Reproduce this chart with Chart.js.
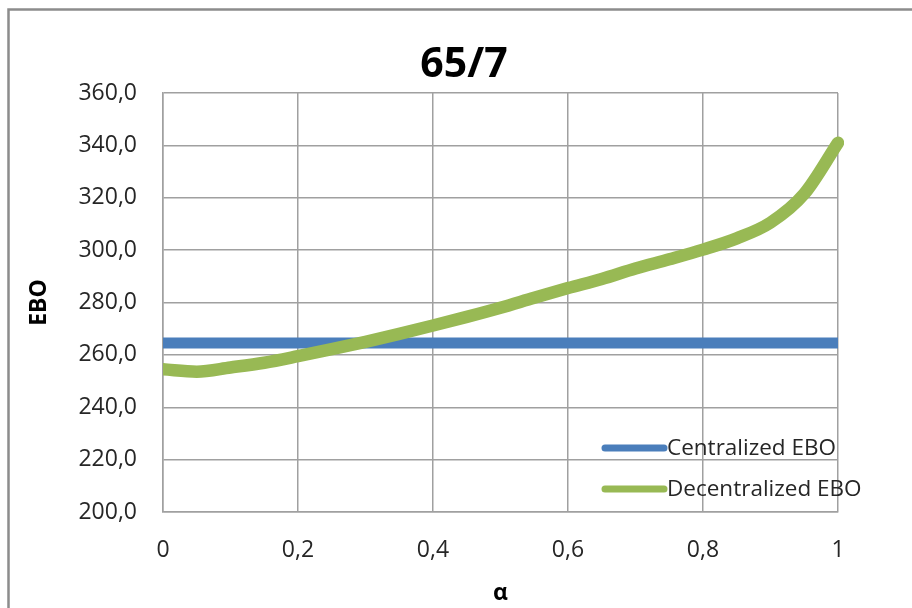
<!DOCTYPE html>
<html>
<head>
<meta charset="utf-8">
<script src="https://cdn.jsdelivr.net/npm/chart.js@4/dist/chart.umd.min.js"></script>
<style>
  html, body { margin: 0; padding: 0; background: #ffffff; }
  #wrap { width: 912px; height: 608px; }
</style>
</head>
<body>
<div id="wrap"><canvas id="c" width="912" height="608"></canvas></div>
<script>
// alpha values (x axis)
const alphas = [0, 0.05, 0.1, 0.15, 0.2, 0.25, 0.3, 0.35, 0.4, 0.45, 0.5,
                0.55, 0.6, 0.65, 0.7, 0.75, 0.8, 0.85, 0.9, 0.95, 1];
// EBO for the centralized system (constant)
const centralizedEBO = [264.5, 264.5, 264.5, 264.5, 264.5, 264.5, 264.5, 264.5, 264.5, 264.5, 264.5,
                        264.5, 264.5, 264.5, 264.5, 264.5, 264.5, 264.5, 264.5, 264.5, 264.5];
// EBO for the decentralized system
const decentralizedEBO = [254.5, 253.6, 255.2, 257.0, 259.5, 262.2, 265.0, 268.0, 271.2, 274.5, 278.0,
                          281.8, 285.5, 289.0, 293.0, 296.5, 300.2, 304.5, 310.5, 321.5, 341.0];
const seriesNames = ['Centralized EBO', 'Decentralized EBO'];
const chartTitle = '65/7';
const xTitle = 'α';
const yTitle = 'EBO';

const FONT = "'Open Sans', 'Noto Sans', 'DejaVu Sans', sans-serif";
const BLUE = '#4a7ebb';
const GREEN = '#98b954';
const TEXT = '#262626';

const toPoints = (ys) => alphas.map((a, i) => ({ x: a, y: ys[i] }));
const comma = (v, digits) => Number(v).toFixed(digits).replace('.', ',');

// outer frame, title and legend drawn on the canvas
const decorations = {
  id: 'decorations',
  beforeDraw(chart) {
    const ctx = chart.ctx;
    ctx.save();
    ctx.strokeStyle = '#8c8c8c';
    ctx.lineWidth = 2.5;
    ctx.beginPath();
    ctx.moveTo(912, 9.5);
    ctx.lineTo(8.5, 9.5);
    ctx.lineTo(8.5, 608);
    ctx.stroke();

    ctx.fillStyle = '#000000';
    ctx.font = "bold 41px " + FONT;
    ctx.textAlign = 'center';
    ctx.textBaseline = 'alphabetic';
    ctx.fillText(chartTitle, 464, 77);
    ctx.restore();
  },
  afterDraw(chart) {
    const ctx = chart.ctx;
    const area = chart.chartArea;
    ctx.save();
    chart.data.datasets.forEach((ds, i) => {
      const y = area.bottom - 64 + i * 41;
      ctx.strokeStyle = ds.borderColor;
      ctx.lineWidth = 7;
      ctx.lineCap = 'round';
      ctx.beginPath();
      ctx.moveTo(area.left + 442, y);
      ctx.lineTo(area.left + 501, y);
      ctx.stroke();
      ctx.fillStyle = TEXT;
      ctx.font = "22.5px " + FONT;
      ctx.textAlign = 'left';
      ctx.textBaseline = 'middle';
      ctx.fillText(ds.label, area.left + 504, y + 1);
    });
    ctx.restore();
  }
};

new Chart(document.getElementById('c'), {
  type: 'line',
  data: {
    datasets: [
      {
        label: seriesNames[0],
        data: toPoints(centralizedEBO),
        borderColor: BLUE,
        backgroundColor: BLUE,
        borderWidth: 11,
        borderCapStyle: 'butt',
        pointRadius: 0,
        order: 1,
        clip: { left: 0, right: 4, top: 0, bottom: 0 }
      },
      {
        label: seriesNames[1],
        data: toPoints(decentralizedEBO),
        borderColor: GREEN,
        backgroundColor: GREEN,
        borderWidth: 12.5,
        borderCapStyle: 'round',
        cubicInterpolationMode: 'monotone',
        pointRadius: 0,
        order: 0,
        clip: { left: 0, right: 6, top: 8, bottom: 0 }
      }
    ]
  },
  options: {
    responsive: false,
    animation: false,
    devicePixelRatio: 1,
    layout: { padding: { left: 10, right: 74, top: 93, bottom: 0 } },
    plugins: {
      legend: { display: false },
      title: { display: false },
      tooltip: { enabled: false }
    },
    scales: {
      x: {
        type: 'linear',
        min: 0,
        max: 1,
        afterFit(scale) { scale.height = 96; },
        ticks: {
          stepSize: 0.2,
          padding: 25,
          color: TEXT,
          font: { family: FONT, size: 23 },
          callback: (v) => (v === 0 || v === 1) ? String(v) : comma(v, 1)
        },
        grid: { color: '#a0a0a0', lineWidth: 1.5, drawTicks: false },
        border: { color: '#a0a0a0', width: 1.5 },
        title: {
          display: true,
          text: xTitle,
          color: '#000000',
          font: { family: FONT, size: 23, weight: 'bold' },
          padding: { top: 0, bottom: 1 }
        }
      },
      y: {
        type: 'linear',
        min: 200,
        max: 360,
        afterFit(scale) { scale.width = 153; },
        ticks: {
          stepSize: 20,
          padding: 26,
          color: TEXT,
          font: { family: FONT, size: 23 },
          callback: (v) => comma(v, 1)
        },
        grid: { color: '#a0a0a0', lineWidth: 1.5, drawTicks: false },
        border: { color: '#a0a0a0', width: 1.5 },
        title: {
          display: true,
          text: yTitle,
          color: '#000000',
          font: { family: FONT, size: 23, weight: 'bold' },
          padding: { top: 16, bottom: 0 }
        }
      }
    }
  },
  plugins: [decorations]
});
</script>
</body>
</html>
